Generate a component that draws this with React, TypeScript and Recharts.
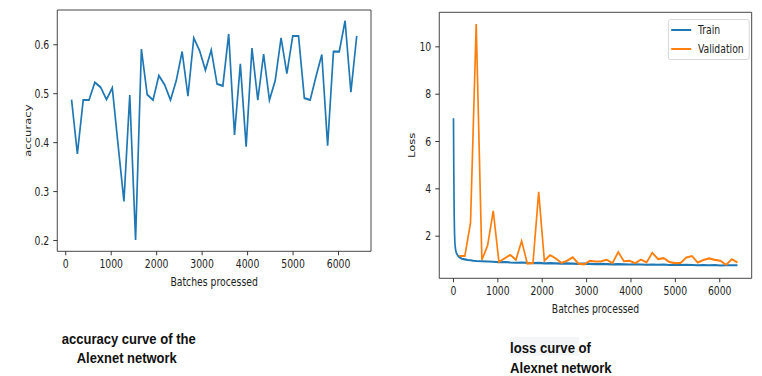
import { Legend, Line, LineChart, ReferenceArea, XAxis, YAxis } from "recharts";

const BLUE = "#1f77b4";
const ORANGE = "#ff7f0e";
const INK = "#222";
const FONT = "'DejaVu Sans', sans-serif";
// the source figure was squeezed sideways; draw wide and squeeze the same way
const SQUEEZE = 0.8;
const LW = 2.1;

const BATCHES = [
  128, 256, 384, 512, 640, 768, 896, 1024, 1152, 1280,
  1408, 1536, 1664, 1792, 1920, 2048, 2176, 2304, 2432, 2560,
  2688, 2816, 2944, 3072, 3200, 3328, 3456, 3584, 3712, 3840,
  3968, 4096, 4224, 4352, 4480, 4608, 4736, 4864, 4992, 5120,
  5248, 5376, 5504, 5632, 5760, 5888, 6016, 6144, 6272, 6400,
];
const ACCURACY = [
  0.488, 0.377, 0.487, 0.487, 0.523, 0.513, 0.488, 0.512, 0.395, 0.28,
  0.497, 0.201, 0.591, 0.498, 0.487, 0.537, 0.518, 0.487, 0.527, 0.586,
  0.495, 0.614, 0.588, 0.548, 0.589, 0.52, 0.516, 0.622, 0.416, 0.561,
  0.392, 0.593, 0.487, 0.581, 0.487, 0.527, 0.614, 0.541, 0.618, 0.618,
  0.491, 0.487, 0.535, 0.58, 0.394, 0.586, 0.586, 0.649, 0.503, 0.618,
];
const VAL_LOSS = [
  1.16, 1.16, 2.56, 10.96, 1.0, 1.6, 3.07, 0.91, 1.06, 1.21,
  1.0, 1.8, 0.84, 0.87, 3.87, 0.96, 1.2, 1.06, 0.87, 0.96,
  1.11, 0.84, 0.81, 0.96, 0.93, 0.94, 1.0, 0.86, 1.33, 0.94,
  0.96, 0.86, 1.01, 0.89, 1.3, 1.03, 1.07, 0.91, 0.86, 0.87,
  1.1, 1.16, 0.89, 0.99, 1.06, 1.0, 0.96, 0.79, 1.03, 0.89,
];
const TRAIN_BATCHES = [
  0, 8, 16, 24, 32, 48, 64, 96, 128, 160, 192, 256, 320, 384, 448, 512,
  640, 768, 896, 1024, 1152, 1280, 1408, 1536, 1664, 1792, 1920, 2048,
  2176, 2304, 2432, 2560, 2688, 2816, 2944, 3072, 3200, 3328, 3456, 3584,
  3712, 3840, 3968, 4096, 4224, 4352, 4480, 4608, 4736, 4864, 4992, 5120,
  5248, 5376, 5504, 5632, 5760, 5888, 6016, 6144, 6272, 6400,
];
const TRAIN_LOSS = [
  6.98, 4.6, 2.9, 2.1, 1.7, 1.42, 1.3, 1.18, 1.12, 1.08, 1.05, 1.02, 0.99, 0.98, 0.96, 0.95,
  0.94, 0.93, 0.92, 0.9, 0.91, 0.89, 0.88, 0.89, 0.87, 0.86, 0.87, 0.85,
  0.86, 0.85, 0.84, 0.85, 0.84, 0.83, 0.84, 0.83, 0.82, 0.83, 0.82, 0.81,
  0.82, 0.81, 0.8, 0.81, 0.8, 0.79, 0.8, 0.79, 0.8, 0.78, 0.79, 0.78,
  0.79, 0.78, 0.77, 0.78, 0.77, 0.78, 0.76, 0.77, 0.77, 0.77,
];
const X_TICKS = [0, 1000, 2000, 3000, 4000, 5000, 6000];
const ACC_TICKS = [0.2, 0.3, 0.4, 0.5, 0.6];
const LOSS_TICKS = [2, 4, 6, 8, 10];
const LEGEND = [
  { name: "Train", color: BLUE },
  { name: "Validation", color: ORANGE },
];

const accData = BATCHES.map((b, i) => ({ batch: b, acc: ACCURACY[i] }));
const valData = BATCHES.map((b, i) => ({ batch: b, loss: VAL_LOSS[i] }));
const trainData = TRAIN_BATCHES.map((b, i) => ({ batch: b, loss: TRAIN_LOSS[i] }));

const tick = { fill: INK, fontSize: 11.6 };

function LossLegend() {
  return (
    <div style={{ border: "1px solid #d4d4d4", borderRadius: 3, background: "#fff",
      fontFamily: FONT, fontSize: 11.6, color: INK, padding: "1px 0", boxSizing: "border-box" }}>
      {LEGEND.map(l => (
        <div key={l.name} style={{ display: "flex", alignItems: "center", height: 18.6 }}>
          <svg width={36} height={10}>
            <line x1={3} x2={28} y1={5} y2={5} stroke={l.color} strokeWidth={LW} />
          </svg>
          <span>{l.name}</span>
        </div>
      ))}
    </div>
  );
}

export default function App() {
  return (
    <div style={{ position: "absolute", left: 0, top: 0, width: 762, height: 376, background: "#fff", overflow: "hidden" }}>
      <div style={{ position: "absolute", left: 0, top: 0, width: 762 / SQUEEZE, height: 376,
        transform: `scaleX(${SQUEEZE})`, transformOrigin: "0 0" }}>
        <div style={{ position: "absolute", left: 0, top: 0 }}>
          <LineChart width={480} height={300} data={accData} style={{ fontFamily: FONT }}
            margin={{ top: 10, right: 16.25, bottom: 8.7, left: 0 }}>
            <XAxis dataKey="batch" type="number" domain={[-186, 6714]} ticks={X_TICKS}
              axisLine={false} tickLine={{ stroke: INK }} tickSize={4} tickMargin={4} height={40}
              tick={tick} interval={0}
              label={{ value: "Batches processed", position: "insideBottom", offset: 5.6, fill: INK, fontSize: 11.6 }} />
            <YAxis type="number" domain={[0.178, 0.671]} ticks={ACC_TICKS} width={71.6}
              axisLine={false} tickLine={{ stroke: INK }} tickSize={5} tickMargin={5} tick={tick}
              label={{ value: "accuracy", angle: -90, position: "insideLeft", offset: 35, fill: INK,
                fontSize: 11.6, style: { textAnchor: "middle" } }} />
            <ReferenceArea x1={-186} x2={6714} y1={0.178} y2={0.671} fill="none" stroke="#333"
              strokeWidth={1} ifOverflow="visible" />
            <Line dataKey="acc" type="linear" stroke={BLUE} strokeWidth={LW} dot={false}
              isAnimationActive={false} />
          </LineChart>
        </div>
        <div style={{ position: "absolute", left: 490, top: 0 }}>
          <LineChart width={462.5} height={330} style={{ fontFamily: FONT }}
            margin={{ top: 12.3, right: 12.9, bottom: 11.7, left: 0 }}>
            <XAxis dataKey="batch" type="number" domain={[-320, 6720]} ticks={X_TICKS}
              axisLine={false} tickLine={{ stroke: INK }} tickSize={4} tickMargin={4} height={40}
              tick={tick} interval={0} allowDuplicatedCategory={false}
              label={{ value: "Batches processed", position: "insideBottom", offset: 5.6, fill: INK, fontSize: 11.6 }} />
            <YAxis type="number" domain={[0.22, 11.46]} ticks={LOSS_TICKS} width={59.1}
              axisLine={false} tickLine={{ stroke: INK }} tickSize={5} tickMargin={5} tick={tick}
              label={{ value: "Loss", angle: -90, position: "insideLeft", offset: 24.6, fill: INK,
                fontSize: 11.6, style: { textAnchor: "middle" } }} />
            <ReferenceArea x1={-320} x2={6720} y1={0.22} y2={11.46} fill="none" stroke="#333"
              strokeWidth={1} ifOverflow="visible" />
            <Line data={trainData} dataKey="loss" name="Train" type="linear" stroke={BLUE}
              strokeWidth={LW} dot={false} isAnimationActive={false} />
            <Line data={valData} dataKey="loss" name="Validation" type="linear" stroke={ORANGE}
              strokeWidth={LW} dot={false} isAnimationActive={false} />
            <Legend layout="vertical" verticalAlign="middle" align="center" content={<LossLegend />}
              wrapperStyle={{ top: 19, left: 345.4, width: 101.2 }} />
          </LineChart>
        </div>
      </div>
      <svg width={762} height={376} style={{ position: "absolute", left: 0, top: 0, pointerEvents: "none" }}>
        <rect x={510} y={337} width={69} height={18.7} fill="#f3f5f7" />
        <g fontFamily="'Liberation Sans', Arial, sans-serif" fontWeight="bold" fontSize={15} fill="#111">
          <text x={61.7} y={344} textLength={134} lengthAdjust="spacingAndGlyphs">accuracy curve of the</text>
          <text x={76.7} y={363.3} textLength={100} lengthAdjust="spacingAndGlyphs">Alexnet network</text>
          <text x={510} y={353.3} textLength={81} lengthAdjust="spacingAndGlyphs">loss curve of</text>
          <text x={510} y={373.3} textLength={101.7} lengthAdjust="spacingAndGlyphs">Alexnet network</text>
        </g>
      </svg>
    </div>
  );
}
